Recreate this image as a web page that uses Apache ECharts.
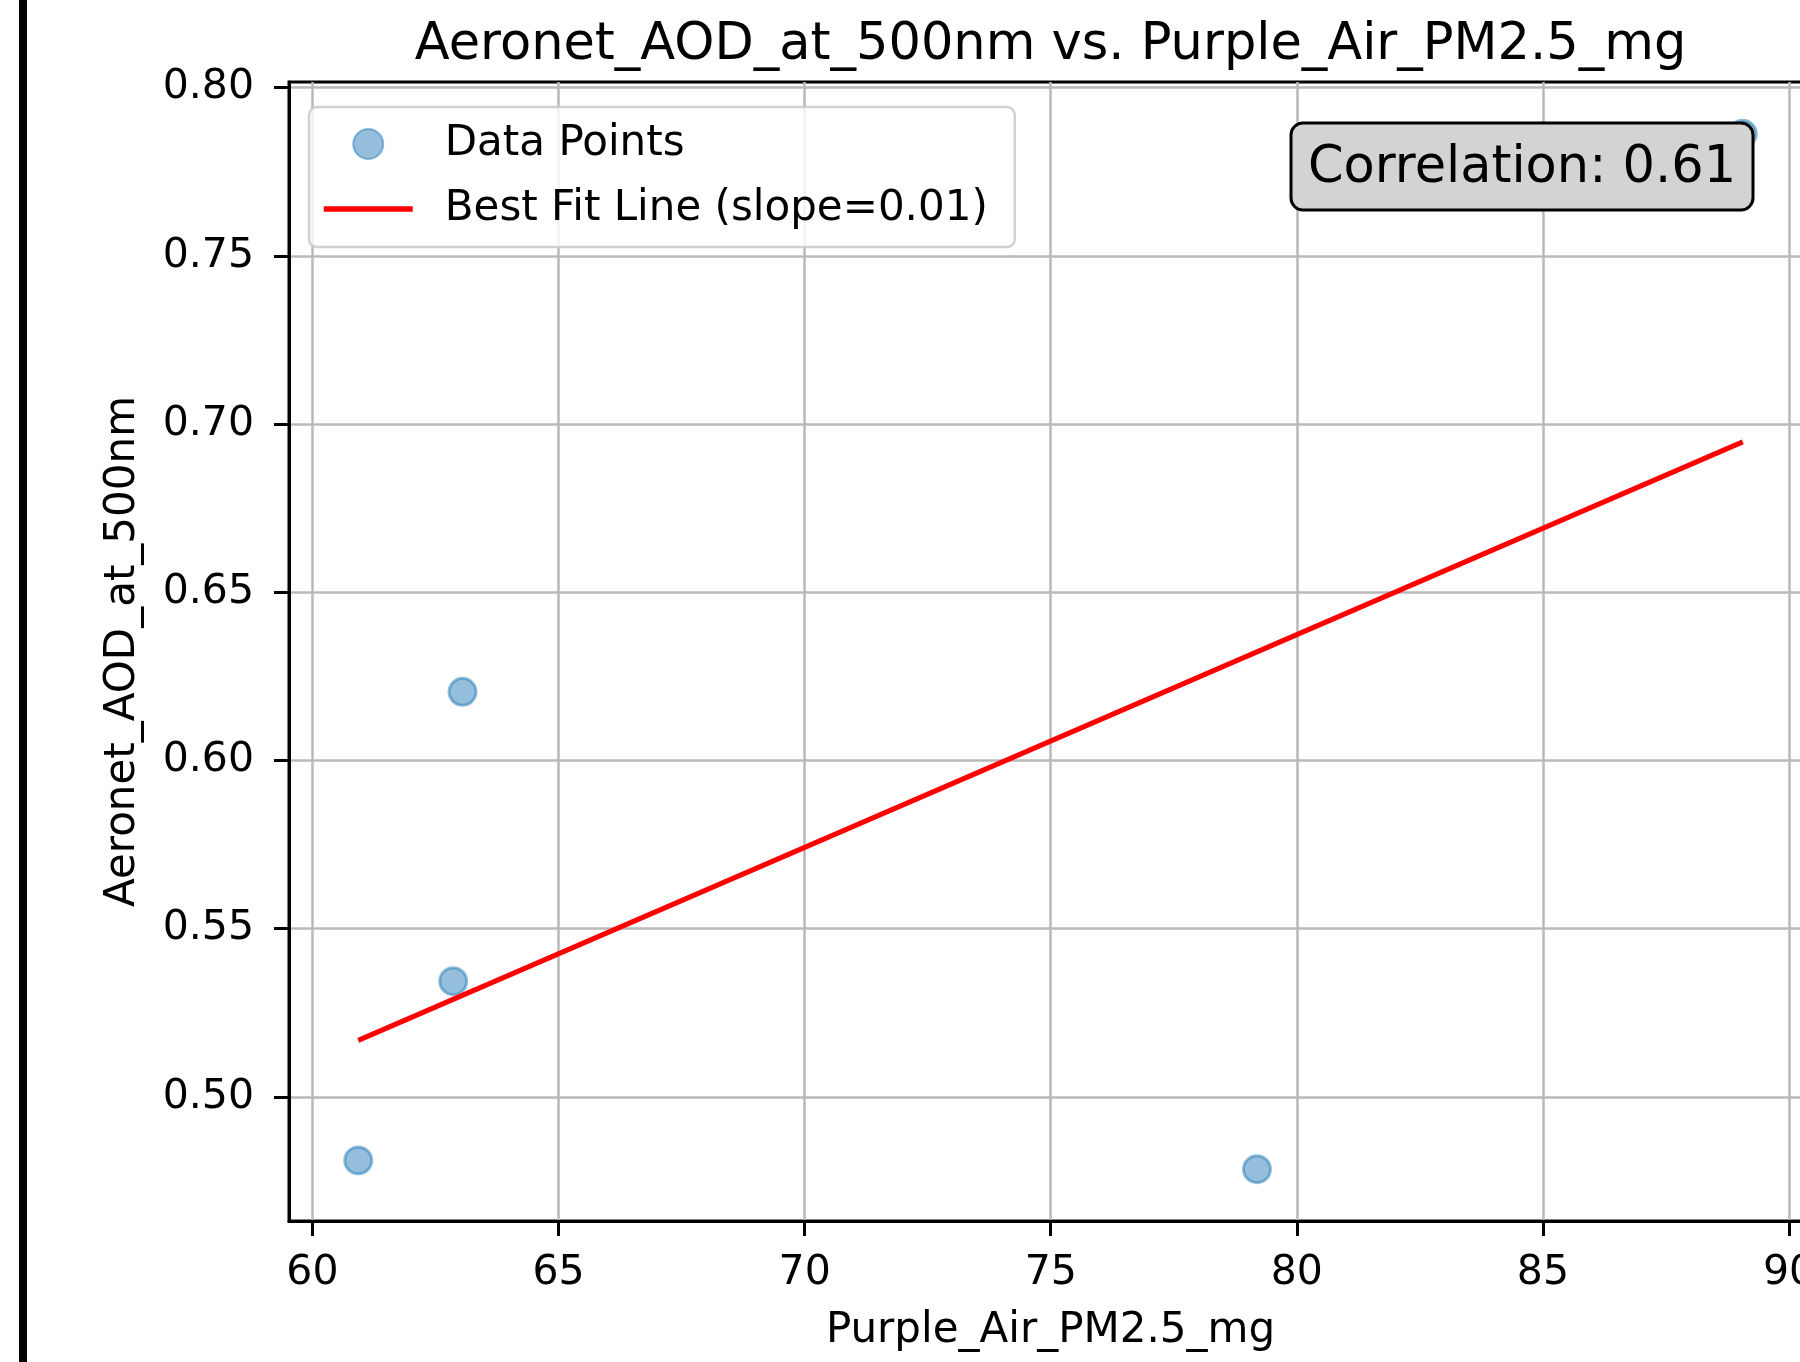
<!DOCTYPE html>
<html>
<head>
<meta charset="utf-8">
<script src="https://cdn.jsdelivr.net/npm/echarts@6/dist/echarts.min.js"></script>
<style>
  html, body { margin: 0; padding: 0; background: #fff; }
  .frame { width: 1800px; height: 1362px; overflow: hidden; position: relative; }
  #chart { width: 1840px; height: 1362px; }
</style>
</head>
<body>
<div class="frame"><div id="chart"></div></div>
<script>
// values
const pmValues = [60.93, 63.05, 62.86, 79.19, 89.06];
const aodValues = [0.4811, 0.6204, 0.5344, 0.4785, 0.7863];
// best fit line end points
const fitPm = [60.93, 89.06];
const fitAod = [0.5168, 0.6947];
const xTicks = [60, 65, 70, 75, 80, 85, 90];
const yTicks = [0.50, 0.55, 0.60, 0.65, 0.70, 0.75, 0.80];
const correlation = 0.61;
const slope = 0.01;

// plot area (px)
const plotLeft = 289, plotTop = 82, plotWidth = 1523, plotHeight = 1139;
const font = 'DejaVu Sans';

// matplotlib style 5% margins
function padded(values) {
  const lo = Math.min(...values), hi = Math.max(...values);
  const pad = (hi - lo) * 0.05;
  return [lo - pad, hi + pad];
}
const xRange = padded(pmValues);
const yRange = padded(aodValues);
const fitName = 'Best Fit Line (slope=' + slope.toFixed(2) + ')';

function onStep(v, step) {
  return Math.abs(v / step - Math.round(v / step)) < 1e-6;
}

const chart = echarts.init(document.getElementById('chart'));
const option = {
  animation: false,
  backgroundColor: '#fff',
  title: {
    text: 'Aeronet_AOD_at_500nm vs. Purple_Air_PM2.5_mg',
    left: plotLeft + plotWidth / 2,
    textAlign: 'center',
    top: 20,
    padding: 0,
    textStyle: { fontFamily: font, fontSize: 51, fontWeight: 'normal', color: '#000' }
  },
  grid: {
    left: plotLeft, top: plotTop, width: plotWidth, height: plotHeight,
    containLabel: false, outerBoundsMode: 'none',
    show: true, borderColor: '#000', borderWidth: 3, backgroundColor: 'transparent'
  },
  legend: {
    orient: 'vertical',
    left: 309, top: 107,
    padding: [16, 27, 17, 12],
    itemWidth: 89, itemHeight: 30, itemGap: 23,
    backgroundColor: 'rgba(255,255,255,0.8)',
    borderColor: 'rgba(204,204,204,0.9)', borderWidth: 2.5, borderRadius: 8,
    textStyle: { fontFamily: font, fontSize: 42, color: '#000', padding: [0, 0, 0, 27] },
    selectedMode: false,
    data: [
      { name: 'Data Points', icon: 'circle' },
      {
        name: fitName,
        itemStyle: { color: 'rgba(0,0,0,0)', borderWidth: 0, opacity: 0 },
        lineStyle: { color: '#ff0000', width: 5.5 }
      }
    ]
  },
  xAxis: {
    type: 'value', min: xRange[0], max: xRange[1],
    name: 'Purple_Air_PM2.5_mg', nameLocation: 'middle', nameGap: 89,
    nameTextStyle: { fontFamily: font, fontSize: 42, color: '#000' },
    axisLine: { show: true, lineStyle: { color: '#000', width: 3 } },
    axisTick: { show: true, length: 15, lineStyle: { color: '#000', width: 3 }, customValues: xTicks },
    axisLabel: {
      customValues: xTicks, margin: 32, fontFamily: font, fontSize: 41, color: '#000',
      formatter: v => onStep(v, 5) ? String(Math.round(v)) : ''
    },
    splitLine: { show: true, lineStyle: { color: '#b8b8b8', width: 2.5 }, customValues: xTicks }
  },
  yAxis: {
    type: 'value', min: yRange[0], max: yRange[1],
    name: 'Aeronet_AOD_at_500nm', nameLocation: 'middle', nameGap: 145,
    nameTextStyle: { fontFamily: font, fontSize: 42, color: '#000' },
    axisLine: { show: true, lineStyle: { color: '#000', width: 3 } },
    axisTick: { show: true, length: 15, lineStyle: { color: '#000', width: 3 }, customValues: yTicks },
    axisLabel: {
      customValues: yTicks, margin: 35, fontFamily: font, fontSize: 41, color: '#000',
      formatter: v => onStep(v, 0.05) ? v.toFixed(2) : ''
    },
    splitLine: { show: true, lineStyle: { color: '#b8b8b8', width: 2.5 }, customValues: yTicks }
  },
  series: [
    {
      name: 'Data Points',
      type: 'scatter',
      data: pmValues.map((x, i) => [x, aodValues[i]]),
      symbolSize: 27,
      itemStyle: { color: 'rgba(31,119,180,0.6)', borderColor: 'rgba(31,119,180,0.6)', borderWidth: 3 },
      z: 2
    },
    {
      name: fitName,
      type: 'line',
      data: fitPm.map((x, i) => [x, fitAod[i]]),
      symbol: 'none',
      lineStyle: { color: '#ff0000', width: 5 },
      itemStyle: { color: '#ff0000' },
      z: 3
    }
  ],
  graphic: [
    // dark edge on the left of the screenshot
    { type: 'rect', z: 100, shape: { x: 19, y: 0, width: 8, height: 1362 }, style: { fill: '#000' } },
    { type: 'rect', z: 100, shape: { x: 1291, y: 123, width: 462, height: 87, r: 12 },
      style: { fill: '#d3d3d3', stroke: '#000', lineWidth: 3 } },
    { type: 'text', z: 101, x: 1522, y: 169,
      style: { text: 'Correlation: ' + correlation.toFixed(2), font: '51px "DejaVu Sans"', fill: '#000', align: 'center', verticalAlign: 'middle' } }
  ]
};
chart.setOption(option);
</script>
</body>
</html>
